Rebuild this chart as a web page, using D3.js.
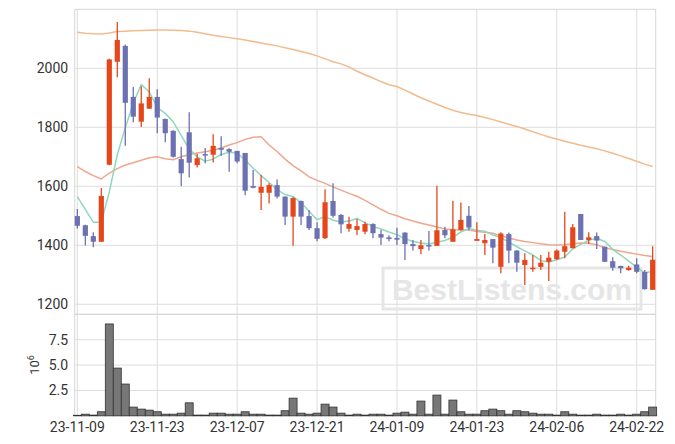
<!DOCTYPE html>
<html lang="en">
<head>
  <meta charset="UTF-8" />
  <title>Candlestick chart</title>
  <script src="https://d3js.org/d3.v7.min.js"></script>
  <style>
    body { margin: 0; background: #fff; }
    svg { display: block; font-family: Roboto, "Noto Sans", sans-serif; }
    .tick-label { font-size: 14px; fill: #333; }
  </style>
</head>
<body>
  <svg id="chart" width="675" height="444"></svg>

  <script>
    // ---------- DATA ----------
    const dates = [
      "23-11-09","23-11-10","23-11-13","23-11-14","23-11-15","23-11-16","23-11-17","23-11-20","23-11-21","23-11-22",
      "23-11-23","23-11-24","23-11-27","23-11-28","23-11-29","23-11-30","23-12-01","23-12-04","23-12-05","23-12-06",
      "23-12-07","23-12-08","23-12-11","23-12-12","23-12-13","23-12-14","23-12-15","23-12-18","23-12-19","23-12-20",
      "23-12-21","23-12-22","23-12-26","23-12-27","23-12-28","24-01-02","24-01-03","24-01-04","24-01-05","24-01-08",
      "24-01-09","24-01-10","24-01-11","24-01-12","24-01-15","24-01-16","24-01-17","24-01-18","24-01-19","24-01-22",
      "24-01-23","24-01-24","24-01-25","24-01-26","24-01-29","24-01-30","24-01-31","24-02-01","24-02-02","24-02-05",
      "24-02-06","24-02-07","24-02-08","24-02-13","24-02-14","24-02-15","24-02-16","24-02-19","24-02-20","24-02-21",
      "24-02-22","24-02-23","24-02-26"
    ];
    const tickIdx = [0, 10, 20, 30, 40, 50, 60, 70];

    const open = [1499,1468,1431,1412,1673,2022,2076,1903,1819,1863,1903,1828,1788,1692,1783,1672,1709,1707,1730,1726,
      1720,1713,1601,1578,1578,1604,1565,1497,1550,1499,1458,1424,1550,1503,1456,1452,1446,1472,1438,1427,
      1425,1443,1404,1387,1401,1398,1452,1412,1452,1500,1415,1407,1421,1327,1438,1382,1333,1319,1327,1344,
      1353,1378,1390,1506,1418,1431,1395,1346,1330,1316,1335,1310,1249];
    const high = [1523,1470,1444,1594,2032,2157,2081,1937,1939,1966,1929,1830,1790,1734,1851,1710,1730,1776,1770,1729,
      1720,1713,1655,1638,1610,1623,1565,1564,1552,1520,1478,1590,1610,1506,1497,1489,1480,1475,1452,1434,
      1459,1444,1418,1418,1448,1602,1463,1551,1545,1533,1478,1438,1421,1444,1443,1384,1373,1367,1367,1378,
      1386,1514,1472,1506,1444,1443,1396,1359,1331,1331,1356,1316,1397];
    const low = [1457,1399,1393,1412,1671,1970,1737,1817,1801,1862,1780,1749,1698,1601,1630,1664,1678,1681,1703,1649,
      1678,1570,1593,1520,1542,1559,1469,1398,1469,1452,1414,1421,1494,1441,1446,1435,1437,1424,1401,1414,
      1401,1350,1382,1370,1382,1398,1424,1412,1449,1452,1415,1367,1339,1305,1339,1310,1265,1310,1316,1279,
      1350,1356,1390,1418,1404,1387,1343,1314,1305,1314,1305,1250,1249];
    const close = [1466,1432,1412,1567,2030,2096,1883,1836,1881,1903,1833,1780,1700,1644,1680,1695,1704,1737,1724,1717,
      1684,1585,1595,1598,1604,1565,1497,1560,1497,1458,1422,1546,1500,1471,1472,1465,1472,1441,1426,1421,
      1419,1404,1397,1400,1398,1451,1434,1454,1486,1460,1421,1418,1392,1440,1382,1341,1350,1324,1341,1358,
      1382,1397,1461,1418,1427,1416,1344,1324,1322,1324,1310,1251,1351];
    // volume in millions
    const volume = [0.05,0.16,0.07,0.4,9.05,4.7,3.13,0.86,0.66,0.56,0.4,0.16,0.16,0.26,1.28,0.07,0.07,0.26,0.26,0.16,
      0.16,0.4,0.16,0.16,0.07,0.07,0.5,1.74,0.26,0.16,0.26,1.15,0.86,0.26,0.07,0.16,0.07,0.16,0.16,0.07,
      0.26,0.36,0.16,1.45,0.16,2.04,0.16,1.55,0.4,0.16,0.16,0.5,0.66,0.5,0.16,0.5,0.4,0.26,0.16,0.16,
      0.07,0.4,0.16,0.07,0.07,0.16,0.07,0.07,0.16,0.07,0.16,0.4,0.86];

    const ma5 = [1565,1522,1478,1478,1581,1707,1798,1882,1945,1920,1867,1847,1819,1772,1727,1700,1685,1692,1708,1715,
      1713,1689,1661,1636,1613,1589,1572,1565,1545,1515,1487,1497,1485,1479,1482,1491,1476,1464,1455,1445,
      1436,1422,1413,1408,1404,1410,1416,1427,1445,1457,1451,1448,1435,1426,1411,1395,1381,1367,1348,1343,
      1351,1360,1388,1403,1417,1424,1413,1386,1367,1346,1325,1306,1312];
    const ma20 = [1667,1650,1636,1625,1645,1660,1672,1680,1688,1697,1700,1693,1690,1700,1708,1713,1717,1722,1730,1740,
      1748,1759,1766,1768,1740,1718,1692,1670,1652,1632,1620,1610,1598,1587,1576,1566,1552,1537,1522,1508,
      1500,1490,1482,1475,1469,1462,1455,1453,1452,1452,1447,1444,1441,1432,1425,1418,1413,1409,1405,1402,
      1401,1402,1405,1408,1407,1402,1392,1386,1380,1375,1370,1365,1362];
    const ma60 = [2122,2119,2117,2116,2120,2125,2126,2127,2128,2129,2130,2130,2129,2128,2126,2122,2117,2112,2108,2104,
      2100,2096,2091,2086,2081,2076,2070,2064,2057,2050,2042,2032,2022,2015,2005,1990,1978,1967,1955,1944,
      1938,1926,1913,1900,1889,1878,1867,1858,1850,1844,1840,1833,1826,1818,1810,1803,1794,1785,1776,1767,
      1760,1753,1746,1739,1733,1727,1720,1712,1703,1694,1685,1675,1667];

    const priceTicks = [1200, 1400, 1600, 1800, 2000];
    const volTicks = [2.5, 5.0, 7.5];

    // ---------- LAYOUT ----------
    const svg = d3.select("#chart");
    const plotLeft = 74.7, plotRight = 655.7;
    const plotTop = 9.3, plotMid = 314.3, plotBottom = 415.8;

    const x = d3.scaleLinear().domain([-0.33, 72.38]).range([plotLeft, plotRight]);
    const y = d3.scaleLinear().domain([1166, 2200]).range([plotMid, plotTop]);
    const yv = d3.scaleLinear().domain([0, 10]).range([plotBottom, plotMid]);

    const upColor = "#e5471b", downColor = "#6c71b2";
    const gridColor = "#dddddd";

    // grid
    const grid = svg.append("g");
    grid.selectAll(".vg").data(tickIdx).join("line")
      .attr("x1", d => x(d)).attr("x2", d => x(d))
      .attr("y1", plotTop).attr("y2", plotBottom)
      .attr("stroke", gridColor);
    grid.selectAll(".hg").data(priceTicks).join("line")
      .attr("x1", plotLeft).attr("x2", plotRight)
      .attr("y1", d => y(d)).attr("y2", d => y(d))
      .attr("stroke", gridColor);
    grid.selectAll(".hv").data(volTicks).join("line")
      .attr("x1", plotLeft).attr("x2", plotRight)
      .attr("y1", d => yv(d)).attr("y2", d => yv(d))
      .attr("stroke", gridColor);
    // panel borders
    grid.append("rect").attr("x", plotLeft).attr("y", plotTop)
      .attr("width", plotRight - plotLeft).attr("height", plotMid - plotTop)
      .attr("fill", "none").attr("stroke", "#d6d6d6");
    grid.append("rect").attr("x", plotLeft).attr("y", plotMid)
      .attr("width", plotRight - plotLeft).attr("height", plotBottom - plotMid)
      .attr("fill", "none").attr("stroke", "#d6d6d6");

    // watermark
    const wm = svg.append("g");
    wm.append("rect").attr("x", 383).attr("y", 268)
      .attr("width", 258).attr("height", 41)
      .attr("fill", "none").attr("stroke", "#e6e6e6").attr("stroke-width", 3);
    wm.append("text").attr("x", 512).attr("y", 299.5)
      .attr("text-anchor", "middle")
      .style("font-family", "'Liberation Sans', Arial, sans-serif")
      .style("font-weight", "bold").style("font-size", "30px")
      .attr("fill", "#e6e6e6")
      .text("BestListens.com");

    // moving averages
    const idx = d3.range(dates.length);
    const line = arr => d3.line().x(i => x(i)).y(i => y(arr[i]))(idx);
    [[ma60, "#f2bb8c"], [ma20, "#efa68c"], [ma5, "#8fd8bd"]].forEach(([arr, c]) => {
      svg.append("path").attr("d", line(arr))
        .attr("fill", "none").attr("stroke", c).attr("stroke-width", 1.5);
    });

    // candles
    const bw = 5.2;
    const candles = svg.append("g").selectAll("g").data(idx).join("g");
    candles.append("line")
      .attr("x1", i => x(i)).attr("x2", i => x(i))
      .attr("y1", i => y(high[i])).attr("y2", i => y(low[i]))
      .attr("stroke", i => close[i] >= open[i] ? upColor : downColor)
      .attr("stroke-width", 1.3);
    candles.append("rect")
      .attr("x", i => x(i) - bw / 2)
      .attr("width", bw)
      .attr("y", i => y(Math.max(open[i], close[i])))
      .attr("height", i => Math.max(1.5, Math.abs(y(open[i]) - y(close[i]))))
      .attr("fill", i => close[i] >= open[i] ? upColor : downColor);

    // volume bars
    const step = x(1) - x(0);
    svg.append("g").selectAll("rect").data(idx).join("rect")
      .attr("x", i => x(i) - step / 2)
      .attr("width", step)
      .attr("y", i => yv(volume[i]))
      .attr("height", i => plotBottom - yv(volume[i]))
      .attr("fill", "#777777")
      .attr("stroke", "#333333")
      .attr("stroke-width", 0.8);

    // axes labels
    svg.append("g").selectAll("text").data(priceTicks).join("text")
      .attr("class", "tick-label")
      .attr("x", plotLeft - 6.5).attr("y", d => y(d))
      .attr("text-anchor", "end").attr("dominant-baseline", "central")
      .text(d => d);
    svg.append("g").selectAll("text").data(volTicks).join("text")
      .attr("class", "tick-label")
      .attr("x", plotLeft - 6.5).attr("y", d => yv(d))
      .attr("text-anchor", "end").attr("dominant-baseline", "central")
      .text(d => d3.format(".1f")(d));
    svg.append("g").selectAll("text").data(tickIdx).join("text")
      .attr("class", "tick-label")
      .attr("x", d => x(d)).attr("y", 431.5)
      .attr("text-anchor", "middle")
      .text(d => dates[d]);

    const ylab = svg.append("text")
      .attr("transform", "translate(38.5,365) rotate(-90)")
      .attr("text-anchor", "middle")
      .attr("fill", "#333");
    ylab.append("tspan").style("font-size", "13px").text("10");
    ylab.append("tspan").style("font-size", "9px").attr("dy", -5).text("6");
  </script>
</body>
</html>
